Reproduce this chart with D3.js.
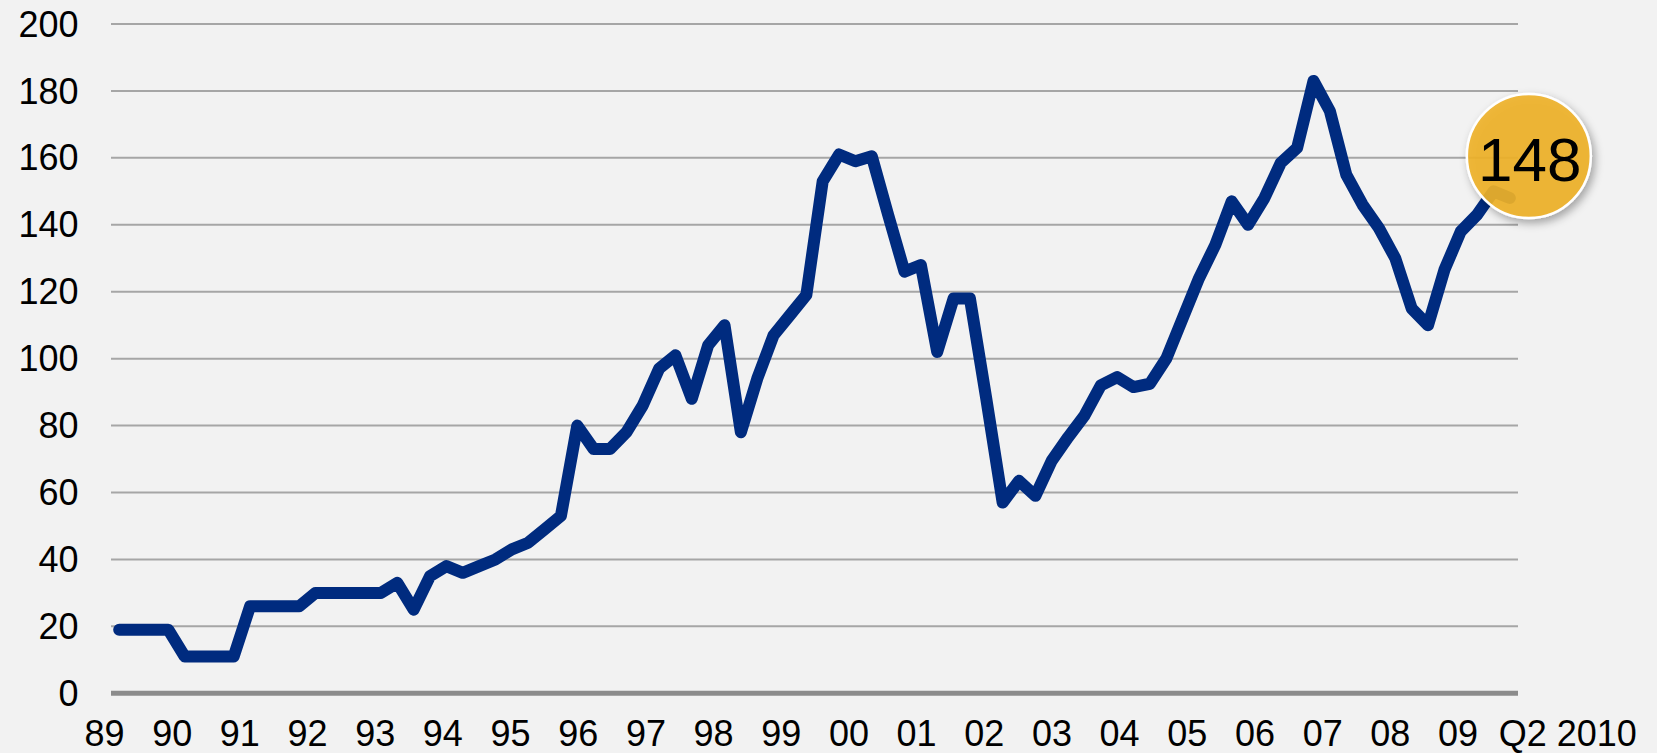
<!DOCTYPE html>
<html>
<head>
<meta charset="utf-8">
<script src="https://cdn.jsdelivr.net/npm/d3@7"></script>
<style>
  html, body { margin: 0; padding: 0; background: #f2f2f2; }
  svg { display: block; font-family: "Liberation Sans", Arial, sans-serif; }
</style>
</head>
<body>
<div class="graph"></div>
<script>
// quarterly values, Q1 1989 .. Q2 2010
var values = [
  19, 19, 19, 19, 11, 11, 11, 11, 26, 26, 26, 26,
  30, 30, 30, 30, 30, 33, 25, 35, 38, 36, 38, 40,
  43, 45, 49, 53, 80, 73, 73, 78, 86, 97, 101, 88,
  104, 110, 78, 94, 107, 113, 119, 153, 161, 159, 160.5, 143,
  126, 128, 102, 118, 118, 88, 57, 63.5, 59, 69.5, 76.5, 83,
  92, 94.5, 91.5, 92.5, 100, 112, 124, 134, 147, 140, 148, 158.5,
  163, 183, 174, 155, 146, 139, 130, 115, 110, 126.5, 138, 143,
  150, 148
];
var yearLabels = ['89', '90', '91', '92', '93', '94', '95', '96', '97', '98', '99',
  '00', '01', '02', '03', '04', '05', '06', '07', '08', '09', 'Q2 2010'];
var yTicks = [0, 20, 40, 60, 80, 100, 120, 140, 160, 180, 200];
var lastLabel = '148';

var width = 1657, height = 753;

var svg = d3.select('.graph')
  .append('svg')
  .attr('width', width)
  .attr('height', height);

svg.append('rect')
  .attr('width', width)
  .attr('height', height)
  .attr('fill', '#f2f2f2');

var x = d3.scalePoint()
  .domain(d3.range(values.length))
  .range([111, 1518])
  .padding(0.5);

var y = d3.scaleLinear()
  .domain([0, 200])
  .range([693.3, 24]);

// year labels sit in their own row, not exactly on the quarters
var xl = d3.scaleLinear()
  .domain([0, 20])
  .range([104.5, 1458]);

var defs = svg.append('defs');
var shadow = defs.append('filter')
  .attr('id', 'shadow')
  .attr('x', '-30%').attr('y', '-30%')
  .attr('width', '160%').attr('height', '160%');
shadow.append('feDropShadow')
  .attr('dx', 3).attr('dy', 4)
  .attr('stdDeviation', 4)
  .attr('flood-color', '#000')
  .attr('flood-opacity', 0.35);

// gridlines
svg.append('g')
  .selectAll('line')
  .data(yTicks.filter(function (d) { return d > 0; }))
  .enter()
  .append('line')
  .attr('x1', 111)
  .attr('x2', 1518)
  .attr('y1', function (d) { return y(d); })
  .attr('y2', function (d) { return y(d); })
  .attr('stroke', '#a6a6a6')
  .attr('stroke-width', 2);

// base axis
svg.append('line')
  .attr('x1', 111)
  .attr('x2', 1518)
  .attr('y1', y(0))
  .attr('y2', y(0))
  .attr('stroke', '#8c8c8c')
  .attr('stroke-width', 5);

svg.append('g')
  .selectAll('text')
  .data(yTicks)
  .enter()
  .append('text')
  .attr('x', 78.5)
  .attr('y', function (d) { return y(d); })
  .attr('dy', '0.35em')
  .attr('text-anchor', 'end')
  .attr('font-size', 36)
  .attr('fill', '#000')
  .text(function (d) { return d; });

svg.append('g')
  .selectAll('text')
  .data(yearLabels)
  .enter()
  .append('text')
  .attr('x', function (d, i) { return i === yearLabels.length - 1 ? xl(i) - 27 : xl(i); })
  .attr('y', 745.5)
  .attr('text-anchor', function (d, i) { return i === yearLabels.length - 1 ? 'start' : 'middle'; })
  .attr('font-size', 36)
  .attr('fill', '#000')
  .text(function (d) { return d; });

var line = d3.line()
  .x(function (d, i) { return x(i); })
  .y(function (d) { return y(d); });

svg.append('path')
  .datum(values)
  .attr('d', line)
  .attr('fill', 'none')
  .attr('stroke', '#002b7f')
  .attr('stroke-width', 12)
  .attr('stroke-linejoin', 'round')
  .attr('stroke-linecap', 'round');

// bubble over the last value
var last = values.length - 1;
var bx = x(last) + 19, by = y(values[last]) - 42;
svg.append('circle')
  .attr('cx', bx)
  .attr('cy', by)
  .attr('r', 62)
  .attr('fill', '#efb22a')
  .attr('fill-opacity', 0.9)
  .attr('stroke', '#fff')
  .attr('stroke-width', 2.5)
  .attr('filter', 'url(#shadow)');

svg.append('text')
  .attr('x', bx + 1)
  .attr('y', by)
  .attr('dy', '0.4em')
  .attr('text-anchor', 'middle')
  .attr('font-size', 62)
  .attr('fill', '#000')
  .text(lastLabel);
</script>
</body>
</html>
